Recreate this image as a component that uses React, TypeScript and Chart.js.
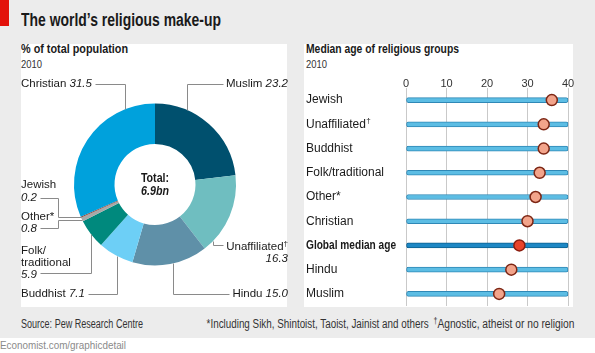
import React, { useEffect, useLayoutEffect, useRef } from 'react';
import { Chart, registerables } from 'chart.js';

Chart.register(...registerables);

// ---------- data ----------
const religions = ['Muslim', 'Unaffiliated', 'Hindu', 'Buddhist', 'Folk/traditional', 'Other*', 'Jewish', 'Christian'];
const shares = [23.2, 16.3, 15.0, 7.1, 5.9, 0.8, 0.2, 31.5];
const shareColors = ['#00506e', '#6fbec0', '#5f90a8', '#6dcff6', '#00897d', '#a8a8a8', '#8c2d1c', '#00a1dc'];
const totalLabel = '6.9bn';

const ageGroups = ['Jewish', 'Unaffiliated†', 'Buddhist', 'Folk/traditional', 'Other*', 'Christian', 'Global median age', 'Hindu', 'Muslim'];
const medianAges = [36, 34, 34, 33, 32, 30, 28, 26, 23];
const ageTicks = [0, 10, 20, 30, 40];
const AGE_MAX = 40;
const GLOBAL_IDX = 6;

// ---------- styles ----------
const REG = '"Liberation Sans", Arial, sans-serif';
const TXT = '#1a1a1a';
const cfont = (size: number, fam: string, weight = 'normal', style = 'normal') => `${style} ${weight} ${size}px ${fam}`;
const NARROW = 0.82;

// doughnut canvas offset on page
const OX = 21;
const OY = 70;

type Seg = { t: string; it?: boolean; sup?: boolean };
type Row = { b: number; segs: Seg[] };
type Leader = { row: number; y: number; lx: number; ly?: number; ring: 'top' | 'bottom' | 'left' };
type PieLabel = { align: 'left' | 'right'; x: number; rows: Row[]; leader: Leader };

const pieLabelLayout: PieLabel[] = [
  { align: 'left', x: 21, rows: [{ b: 87, segs: [{ t: 'Christian ' }, { t: '31.5', it: true }] }], leader: { row: 0, y: 84, lx: 125, ring: 'top' } },
  { align: 'right', x: 288, rows: [{ b: 87, segs: [{ t: 'Muslim ' }, { t: '23.2', it: true }] }], leader: { row: 0, y: 84, lx: 187, ring: 'top' } },
  { align: 'right', x: 288, rows: [{ b: 250, segs: [{ t: 'Unaffiliated' }, { t: '†', sup: true }] }, { b: 262, segs: [{ t: '16.3', it: true }] }], leader: { row: 0, y: 245, lx: 213, ring: 'bottom' } },
  { align: 'right', x: 288, rows: [{ b: 297, segs: [{ t: 'Hindu ' }, { t: '15.0', it: true }] }], leader: { row: 0, y: 294, lx: 173, ring: 'bottom' } },
  { align: 'left', x: 21, rows: [{ b: 297, segs: [{ t: 'Buddhist ' }, { t: '7.1', it: true }] }], leader: { row: 0, y: 294, lx: 117, ring: 'bottom' } },
  { align: 'left', x: 21, rows: [{ b: 254, segs: [{ t: 'Folk/' }] }, { b: 266, segs: [{ t: 'traditional' }] }, { b: 278, segs: [{ t: '5.9', it: true }] }], leader: { row: 2, y: 273, lx: 91, ring: 'bottom' } },
  { align: 'left', x: 21, rows: [{ b: 188, segs: [{ t: 'Jewish' }] }, { b: 201, segs: [{ t: '0.2', it: true }] }], leader: { row: 1, y: 198, lx: 58, ly: 216.5, ring: 'left' } },
  { align: 'left', x: 21, rows: [{ b: 220, segs: [{ t: 'Other*' }] }, { b: 232, segs: [{ t: '0.8', it: true }] }], leader: { row: 1, y: 228, lx: 58, ly: 219.5, ring: 'left' } },
];

const segFont = (s: Seg) => cfont(s.sup ? 8 : 11.5, REG, 'normal', s.it ? 'italic' : 'normal');

// draw horizontally condensed text (stand-in for a narrow typeface)
function condensedText(ctx: CanvasRenderingContext2D, text: string, x: number, y: number, sx: number) {
  ctx.save();
  ctx.translate(x, y);
  ctx.scale(sx, 1);
  ctx.fillText(text, 0, 0);
  ctx.restore();
}

const pieLabelPlugin = {
  id: 'pieLabels',
  afterDraw(chart: any) {
    const ctx: CanvasRenderingContext2D = chart.ctx;
    const arc = chart.getDatasetMeta(0).data[0] as any;
    const cx = arc.x;
    const cy = arc.y;
    const r = arc.outerRadius;
    ctx.save();
    ctx.textAlign = 'left';
    ctx.textBaseline = 'alphabetic';
    for (const L of pieLabelLayout) {
      const ext = L.rows.map((row) => {
        const widths = row.segs.map((s) => {
          ctx.font = segFont(s);
          return ctx.measureText(s.t).width;
        });
        const w = widths.reduce((a, b) => a + b, 0);
        const x0 = L.align === 'left' ? L.x - OX : L.x - OX - w;
        let x = x0;
        row.segs.forEach((s, i) => {
          ctx.font = segFont(s);
          ctx.fillStyle = TXT;
          ctx.fillText(s.t, x, row.b - OY - (s.sup ? 4 : 0));
          x += widths[i];
        });
        return { x0, x1: x };
      });
      const ld = L.leader;
      const e = ext[ld.row];
      const sx = L.align === 'left' ? e.x1 + 3 : e.x0 - 3;
      const y = ld.y - OY;
      const lx = ld.lx - OX;
      const pts: number[][] = [[sx, y], [lx, y]];
      if (ld.ring === 'left') {
        const ly = (ld.ly as number) - OY;
        const dx = Math.sqrt(Math.max(0, r * r - (ly - cy) * (ly - cy)));
        pts.push([lx, ly], [cx - dx, ly]);
      } else {
        const dy = Math.sqrt(Math.max(0, r * r - (lx - cx) * (lx - cx)));
        pts.push([lx, ld.ring === 'top' ? cy - dy : cy + dy]);
      }
      ctx.strokeStyle = '#8a8a8a';
      ctx.lineWidth = 1;
      ctx.beginPath();
      pts.forEach(([px, py], i) => {
        const X = Math.round(px) + 0.5;
        const Y = Math.round(py) + 0.5;
        if (i === 0) ctx.moveTo(X, Y);
        else ctx.lineTo(X, Y);
      });
      ctx.stroke();
    }
    ctx.textAlign = 'center';
    ctx.fillStyle = TXT;
    ctx.font = cfont(13, REG, 'bold');
    condensedText(ctx, 'Total:', cx, cy - 2.5, NARROW);
    ctx.font = cfont(13, REG, 'bold', 'italic');
    condensedText(ctx, totalLabel, cx, cy + 10.5, NARROW);
    ctx.restore();
  },
};

const ageLabelPlugin = {
  id: 'ageLabels',
  afterDraw(chart: any) {
    const ctx: CanvasRenderingContext2D = chart.ctx;
    const ys = chart.scales.y;
    ctx.save();
    ctx.textAlign = 'left';
    ctx.textBaseline = 'middle';
    ctx.fillStyle = TXT;
    ageGroups.forEach((g, i) => {
      const y = ys.getPixelForValue(i);
      const x = ys.left;
      if (i === GLOBAL_IDX) {
        ctx.font = cfont(12.5, REG, 'bold');
        condensedText(ctx, g, x, y, 0.81);
      } else if (g.endsWith('†')) {
        const base = g.slice(0, -1);
        ctx.font = cfont(12, REG);
        ctx.fillText(base, x, y);
        const w = ctx.measureText(base).width;
        ctx.font = cfont(8, REG);
        ctx.fillText('†', x + w + 0.5, y - 4);
      } else {
        ctx.font = cfont(12, REG);
        ctx.fillText(g, x, y);
      }
    });
    ctx.restore();
  },
};

function Txt(props: {
  x: number; b: number; size: number; w?: number; weight?: string | number; italic?: boolean;
  color?: string; right?: boolean; children: React.ReactNode;
}) {
  const { x, b, size, w, weight = 'normal', italic = false, color = TXT, right = false, children } = props;
  const ref = useRef<HTMLDivElement>(null);
  useLayoutEffect(() => {
    const el = ref.current;
    if (!el || !w) return;
    el.style.transform = 'none';
    const nat = el.getBoundingClientRect().width;
    if (nat > 0) el.style.transform = `scaleX(${w / nat})`;
  }, [w]);
  const style: React.CSSProperties = {
    position: 'absolute',
    top: b - 0.8465 * size,
    fontFamily: REG,
    fontSize: size,
    lineHeight: `${size}px`,
    fontWeight: weight as any,
    fontStyle: italic ? 'italic' : 'normal',
    color,
    whiteSpace: 'nowrap',
    transformOrigin: right ? 'right center' : 'left center',
  };
  if (right) style.right = 595 - x;
  else style.left = x;
  return <div ref={ref} style={style}>{children}</div>;
}

const Sup = ({ children }: { children: React.ReactNode }) => (
  <span style={{ fontSize: '0.7em', position: 'relative', top: '-0.4em' }}>{children}</span>
);

export default function App() {
  const pieRef = useRef<HTMLCanvasElement>(null);
  const ageRef = useRef<HTMLCanvasElement>(null);

  useEffect(() => {
    const pie = new Chart(pieRef.current as HTMLCanvasElement, {
      type: 'doughnut',
      data: {
        labels: religions,
        datasets: [{ data: shares, backgroundColor: shareColors, borderWidth: 0 }],
      },
      options: {
        responsive: false,
        animation: false,
        events: [],
        cutout: '50%',
        rotation: 0,
        layout: { autoPadding: false, padding: { left: 53, right: 52, top: 33.5, bottom: 41.5 } },
        plugins: { legend: { display: false }, tooltip: { enabled: false } },
      },
      plugins: [pieLabelPlugin],
    } as any);

    const age = new Chart(ageRef.current as HTMLCanvasElement, {
      type: 'bar',
      data: {
        labels: ageGroups,
        datasets: [
          {
            type: 'line',
            label: 'Median age',
            data: medianAges,
            indexAxis: 'y',
            showLine: false,
            pointRadius: 5.5,
            pointBorderWidth: 1.5,
            pointBackgroundColor: ageGroups.map((_, i) => (i === GLOBAL_IDX ? '#e8432b' : '#f2a48b')),
            pointBorderColor: ageGroups.map((_, i) => (i === GLOBAL_IDX ? '#8a1c0e' : '#7d2614')),
            order: 0,
            clip: false,
          },
          {
            type: 'bar',
            label: 'Scale',
            data: ageGroups.map(() => AGE_MAX),
            backgroundColor: ageGroups.map((_, i) => (i === GLOBAL_IDX ? '#1d87c4' : '#5cbde4')),
            borderColor: ageGroups.map((_, i) => (i === GLOBAL_IDX ? '#0c5f8e' : '#2f88b6')),
            borderWidth: 1,
            borderSkipped: false,
            borderRadius: 2,
            barThickness: 5,
            order: 1,
            clip: false,
          },
        ],
      },
      options: {
        indexAxis: 'y',
        responsive: false,
        animation: false,
        events: [],
        layout: { autoPadding: false, padding: { left: 2, right: 6, top: 0, bottom: 1 } },
        plugins: { legend: { display: false }, tooltip: { enabled: false } },
        scales: {
          x: {
            position: 'top',
            min: 0,
            max: AGE_MAX,
            afterBuildTicks: (s: any) => {
              s.ticks = ageTicks.map((v) => ({ value: v }));
            },
            afterFit: (s: any) => {
              s.height = 18;
            },
            ticks: { font: { family: REG, size: 11 }, color: '#333', padding: -3 },
            grid: { color: '#c9c9c9', drawTicks: false, lineWidth: 1 },
            border: { display: false },
          },
          y: {
            afterFit: (s: any) => {
              s.width = 100;
            },
            ticks: { display: false },
            grid: { display: false },
            border: { display: false },
          },
        },
      },
      plugins: [ageLabelPlugin],
    } as any);

    return () => {
      pie.destroy();
      age.destroy();
    };
  }, []);

  return (
    <div style={{ position: 'relative', width: 595, height: 353, background: '#fff', overflow: 'hidden', fontFamily: REG }}>
      <style>{'html,body{margin:0;padding:0;background:#fff}'}</style>
      <div style={{ position: 'absolute', left: 0, top: 0, width: 595, height: 338, background: '#ececec' }} />
      <div style={{ position: 'absolute', left: 0, top: 0, width: 9, height: 26, background: '#e3120b' }} />
      <div style={{ position: 'absolute', left: 21, top: 44, width: 266, height: 263, background: '#fff' }} />
      <div style={{ position: 'absolute', left: 304, top: 44, width: 269, height: 263, background: '#fff' }} />

      <Txt x={21} b={27} size={17.5} w={200} weight="bold">The world’s religious make-up</Txt>
      <Txt x={21} b={54} size={12.5} w={107} weight="bold">% of total population</Txt>
      <Txt x={21} b={68} size={10} w={21} color="#333">2010</Txt>
      <Txt x={306} b={54} size={12.5} w={153} weight="bold">Median age of religious groups</Txt>
      <Txt x={306} b={68} size={10} w={21} color="#333">2010</Txt>

      <Txt x={21} b={328} size={12} w={122} color="#333">Source: Pew Research Centre</Txt>
      <Txt x={429} b={328} size={12} w={222} color="#333" right>*Including Sikh, Shintoist, Taoist, Jainist and others</Txt>
      <Txt x={574} b={328} size={12} w={141} color="#333" right><Sup>†</Sup>Agnostic, atheist or no religion</Txt>
      <Txt x={0} b={350} size={11.5} w={126} color="#8a8a8a">Economist.com/graphicdetail</Txt>

      <canvas ref={pieRef} width={267} height={237} style={{ position: 'absolute', left: OX, top: OY, width: 267, height: 237 }} />
      <canvas ref={ageRef} width={270} height={237} style={{ position: 'absolute', left: 304, top: 70, width: 270, height: 237 }} />
    </div>
  );
}
